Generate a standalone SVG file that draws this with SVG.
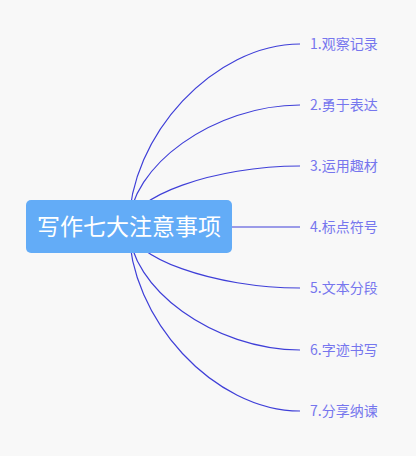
<svg xmlns="http://www.w3.org/2000/svg" width="416" height="456" viewBox="0 0 416 456">
<style>
.edge{fill:none;stroke:#3f3fd8;stroke-width:1.2}
.lbl{font-family:"Noto Sans CJK SC","Liberation Sans",sans-serif;font-size:14px;fill:#7676ee}
.root{font-family:"Noto Sans CJK SC","Liberation Sans",sans-serif;font-size:23px;fill:#ffffff}
</style>
<rect width="416" height="456" fill="#f8f8f8"/>
<g id="connectors">
<path class="edge" d="M129,227 C129,135.5 214.5,44 300,44"/>
<path class="edge" d="M129,227 C129,166 214.5,105 300,105"/>
<path class="edge" d="M129,227 C129,196.5 214.5,166 300,166"/>
<path class="edge" d="M129,227 L300,227"/>
<path class="edge" d="M129,227 C129,257.5 214.5,288 300,288"/>
<path class="edge" d="M129,227 C129,288.5 214.5,350 300,350"/>
<path class="edge" d="M129,227 C129,319 214.5,411 300,411"/>
</g>
<g id="root">
<rect x="26" y="200" width="206" height="53" rx="5" fill="#63acf7"/>
<text class="root" x="129" y="235" text-anchor="middle">写作七大注意事项</text>
</g>
<g id="n1"><text class="lbl" x="310" y="49">1.观察记录</text></g>
<g id="n2"><text class="lbl" x="310" y="110">2.勇于表达</text></g>
<g id="n3"><text class="lbl" x="310" y="171">3.运用趣材</text></g>
<g id="n4"><text class="lbl" x="310" y="232">4.标点符号</text></g>
<g id="n5"><text class="lbl" x="310" y="293">5.文本分段</text></g>
<g id="n6"><text class="lbl" x="310" y="355">6.字迹书写</text></g>
<g id="n7"><text class="lbl" x="310" y="416">7.分享纳谏</text></g>
</svg>
